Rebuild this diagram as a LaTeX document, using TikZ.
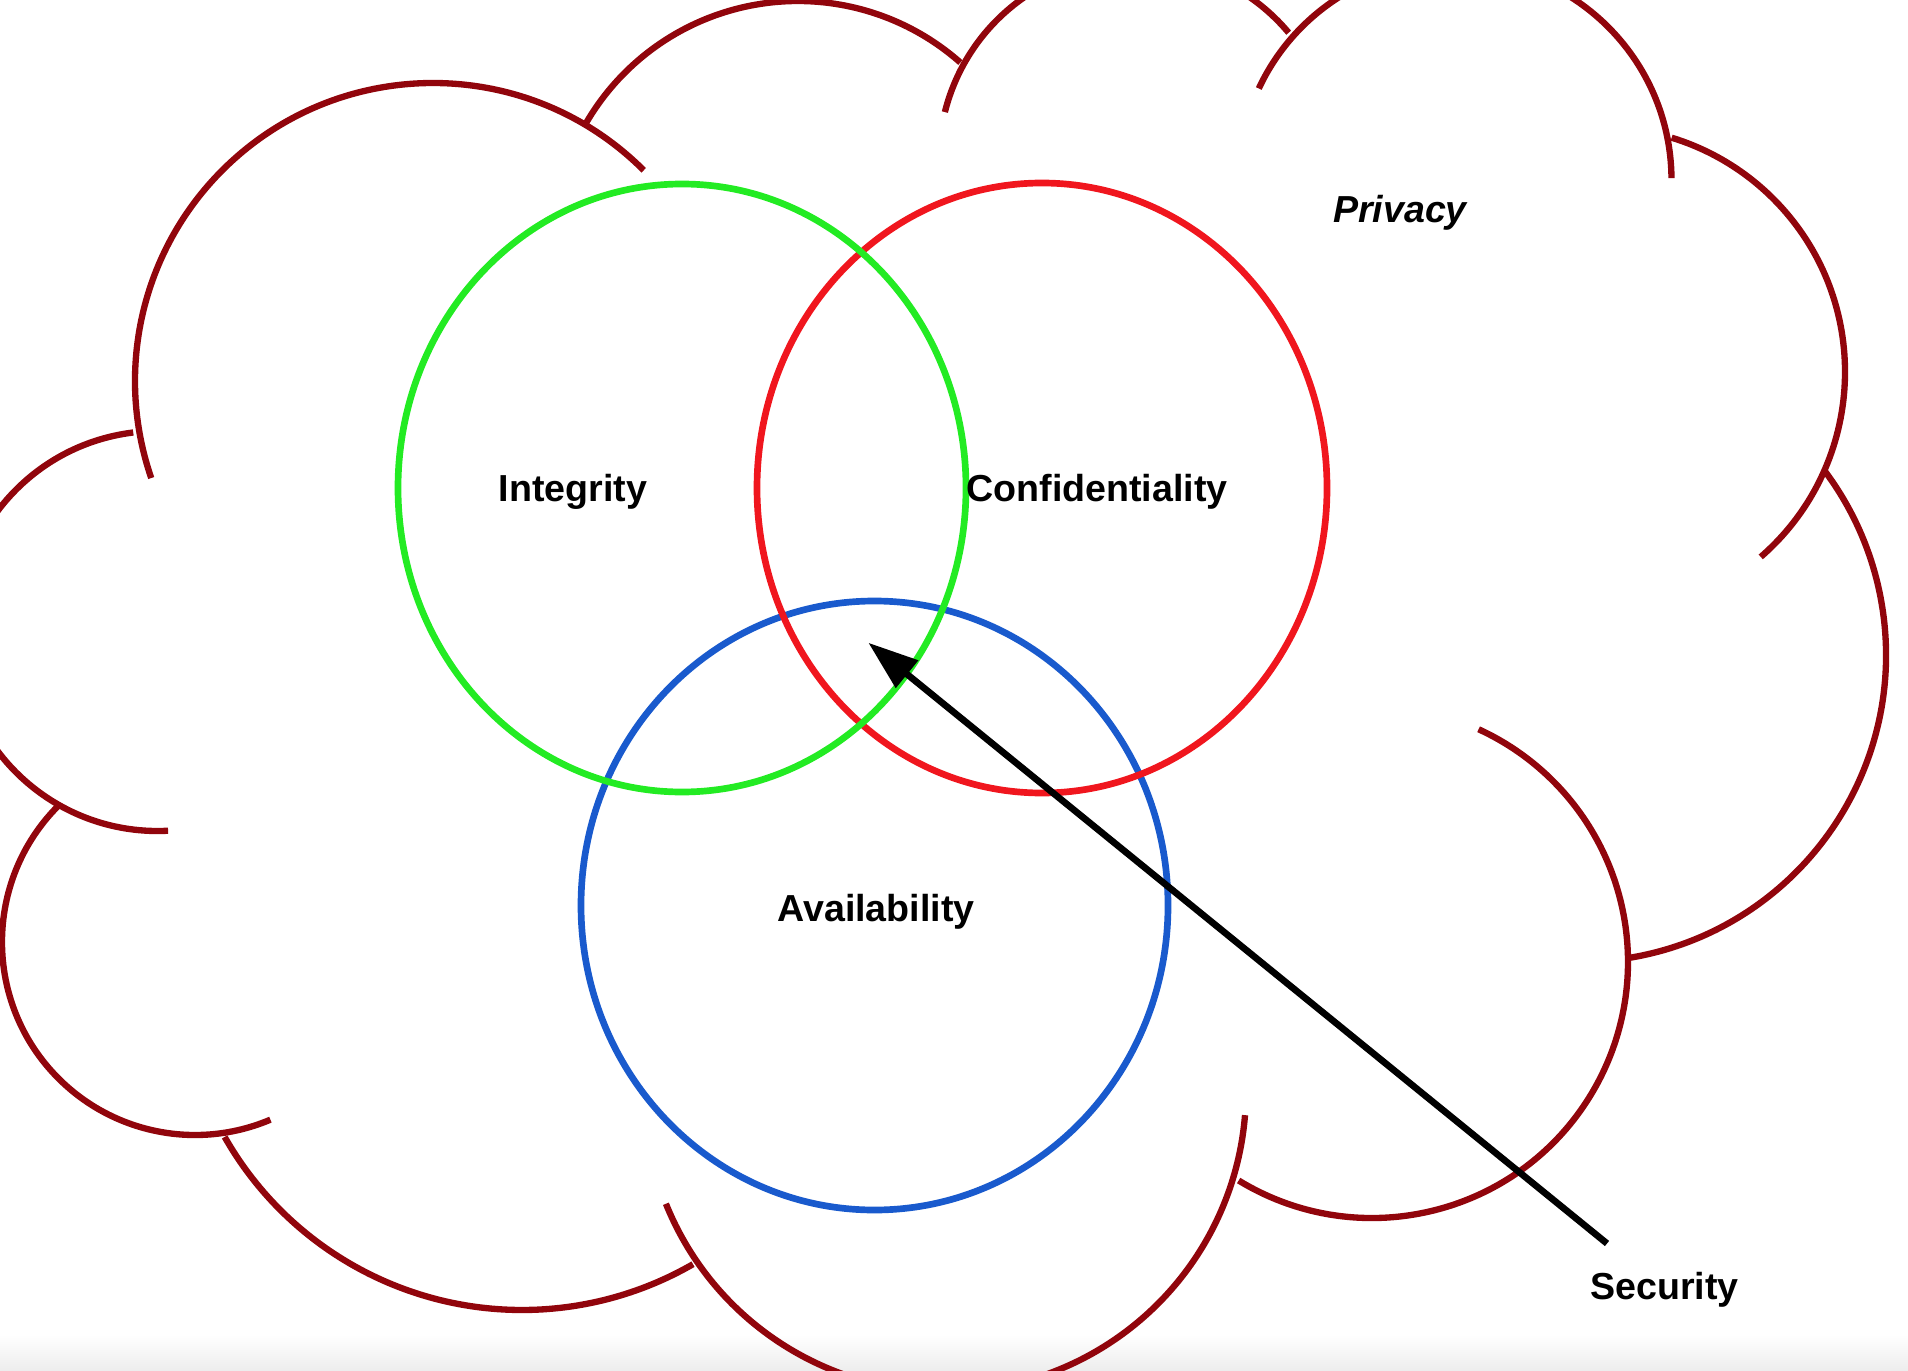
\documentclass[tikz,border=0pt]{standalone}
\usepackage{fontspec}
\setmainfont{Liberation Sans}
\usetikzlibrary{arrows.meta}
\definecolor{cloudred}{RGB}{145,5,12}
\definecolor{vgreen}{RGB}{35,235,35}
\definecolor{vred}{RGB}{240,22,30}
\definecolor{vblue}{RGB}{25,90,205}
\begin{document}
\begin{tikzpicture}[
  puff/.style={line width=1.8pt,cloudred},
  venn/.style={line width=1.9pt},
  lbl/.style={anchor=base,font=\fontsize{10.7}{12}\selectfont\bfseries},
]
\useasboundingbox (0,0) rectangle (19.08,13.70);
\clip (0,0) rectangle (19.08,13.70);
\shade[top color=white,bottom color=black!7] (0,0) rectangle (19.08,0.35);
% cloud
\draw[puff] (1.576,7.39) ++(97:2.00) arc[start angle=97,end angle=273,radius=2.00];
\draw[puff] (4.33,9.89) ++(45:2.98) arc[start angle=45,end angle=199,radius=2.98];
\draw[puff] (7.98,11.24) ++(48.5:2.45) arc[start angle=48.5,end angle=150,radius=2.45];
\draw[puff] (11.37,12.10) ++(40:1.98) arc[start angle=40,end angle=166,radius=1.98];
\draw[puff] (14.55,11.90) ++(0.5:2.165) arc[start angle=0.5,end angle=155,radius=2.165];
\draw[puff] (16.00,9.98) ++(-49:2.45) arc[start angle=-49,end angle=73,radius=2.45];
\draw[puff] (15.79,7.15) ++(-81:3.07) arc[start angle=-81,end angle=37,radius=3.07];
\draw[puff] (13.72,4.08) ++(-121.4:2.56) arc[start angle=-121.4,end angle=65.4,radius=2.56];
\draw[puff] (9.45,2.79) ++(-158:3.01) arc[start angle=-158,end angle=-4.6,radius=3.01];
\draw[puff] (5.22,4.02) ++(-150.4:3.42) arc[start angle=-150.4,end angle=-60,radius=3.42];
\draw[puff] (1.95,4.28) ++(135:1.93) arc[start angle=135,end angle=293,radius=1.93];
% three rings
\draw[venn,vblue] (8.745,4.645) ellipse [x radius=2.935,y radius=3.045];
\draw[venn,vred] (10.42,8.82) ellipse [x radius=2.85,y radius=3.05];
\draw[venn,vgreen] (6.82,8.82) ellipse [x radius=2.84,y radius=3.04];
\node[lbl] (integ) at (5.73,8.685) {Integrity};
\node[lbl] (conf) at (10.97,8.685) {Confidentiality};
\node[lbl] (avail) at (8.76,4.49) {Availability};
\node[lbl,font=\fontsize{10.7}{12}\selectfont\bfseries\itshape] (priv) at (14.00,11.475) {Privacy};
\node[lbl] (secu) at (16.645,0.71) {Security};
\coordinate (tail) at (16.07,1.265);
\coordinate (core) at (8.683,7.273);
\draw[line width=1.9pt,-{Triangle[length=5mm,width=3.4mm]}] (tail) -- (core);
\end{tikzpicture}
\end{document}
